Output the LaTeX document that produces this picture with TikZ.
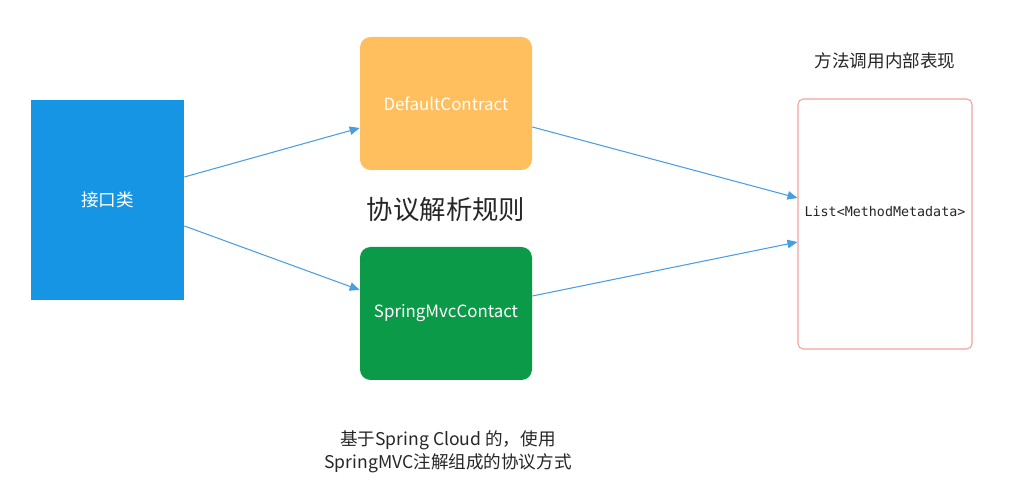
\documentclass[tikz,border=0pt]{standalone}
\usepackage{fontspec}
\setmainfont{Noto Sans CJK SC}
\setmonofont{DejaVu Sans Mono}
\usepackage{xcolor}
\usetikzlibrary{arrows.meta, positioning, calc}

\definecolor{ifaceblue}{HTML}{1795E5}
\definecolor{defaultorange}{HTML}{FFBF5E}
\definecolor{mvcgreen}{HTML}{0B9A47}
\definecolor{metared}{HTML}{F2A19D}
\definecolor{flowblue}{HTML}{4A9EDF}

\tikzset{
  ifacebox/.style={
    rectangle, fill=ifaceblue, text=white, align=center,
    font=\fontsize{10}{12}\selectfont
  },
  contractbox/.style={
    rectangle, rounded corners=6pt, text=white, align=center,
    minimum width=3.44cm, minimum height=2.66cm,
    font=\fontsize{9.6}{11}\selectfont
  },
  metabox/.style={
    rectangle, draw=metared, line width=0.6pt, rounded corners=3pt,
    fill=white, minimum width=3.48cm, minimum height=5cm
  },
  metatext/.style={
    font=\ttfamily\fontsize{7.6}{9}\selectfont, text=black!85
  },
  flowarrow/.style={
    -{Triangle[length=2mm, width=1.7mm]}, line width=0.6pt, color=flowblue
  },
  notelabel/.style={
    font=\fontsize{10}{13}\selectfont, align=center, text=black!85
  },
}

\begin{document}
\begin{tikzpicture}
  \useasboundingbox (0,0) rectangle (20.38,9.74);

  % === Interface ===
  \node[ifacebox, minimum width=3.06cm, minimum height=4cm] (iface) at (2.15, 5.74) {接口类};

  % === Contracts ===
  \node[contractbox, fill=defaultorange] (default) at (8.92, 7.67) {DefaultContract};
  \node[contractbox, fill=mvcgreen] (mvc) at (8.92, 3.47) {SpringMvcContact};

  \node[font=\fontsize{15}{18}\selectfont, text=black!85] (rules) at (8.92, 5.54) {协议解析规则};

  % === Method metadata ===
  \node[metabox] (meta) at (17.7, 5.26) {};
  \node[metatext] (metalist) at ($(meta.center)+(0,0.24)$) {List<MethodMetadata>};
  \node[notelabel] (metatitle) at (17.7, 8.52) {方法调用内部表现};

  % === Flows ===
  \draw[flowarrow] ($(iface.east)+(0,0.46)$) -- ($(default.west)+(0,-0.49)$);
  \draw[flowarrow] ($(iface.east)+(0,-0.52)$) -- ($(mvc.west)+(0,0.47)$);
  \draw[flowarrow] ($(default.east)+(0,-0.47)$) -- ($(meta.west)+(0,0.52)$);
  \draw[flowarrow] ($(mvc.east)+(0,0.35)$) -- ($(meta.west)+(0,-0.36)$);

  % === Note ===
  \node[notelabel] (mvcnote) at (8.96, 0.70)
    {基于Spring Cloud 的，使用\\SpringMVC注解组成的协议方式};

\end{tikzpicture}
\end{document}
